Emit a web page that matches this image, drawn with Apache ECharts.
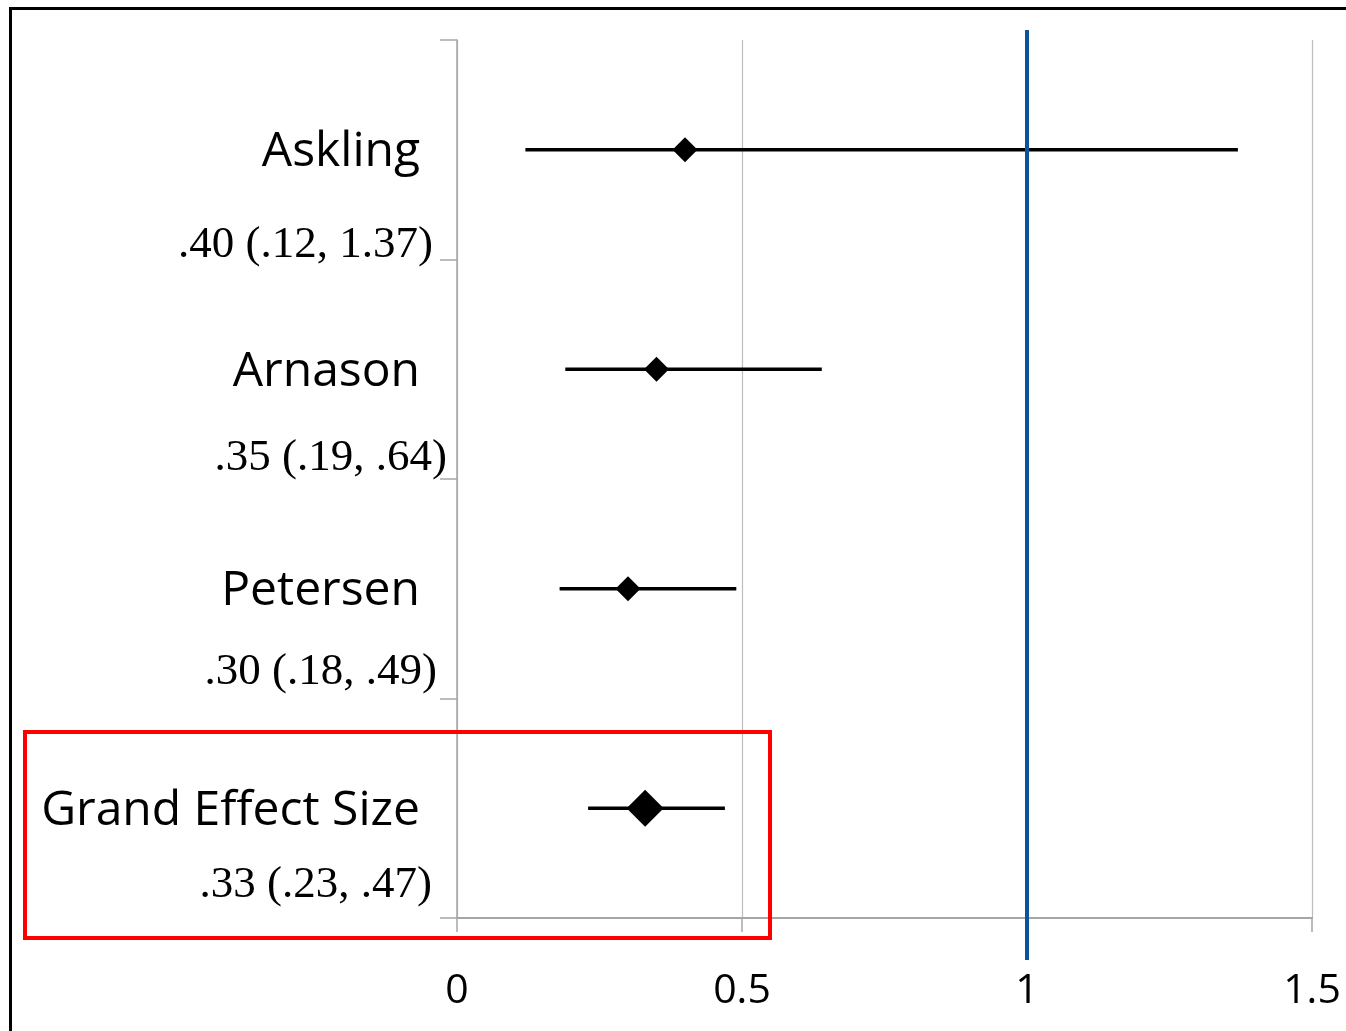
<!DOCTYPE html>
<html>
<head>
<meta charset="utf-8">
<script src="https://cdn.jsdelivr.net/npm/echarts@6/dist/echarts.min.js"></script>
<style>
html,body{margin:0;padding:0;background:#fff;}
#chart{width:1346px;height:1031px;}
</style>
</head>
<body>
<div id="chart"></div>
<script>
const studies = ['Askling', 'Arnason', 'Petersen', 'Grand Effect Size'];
const ciLabels = ['.40 (.12, 1.37)', '.35 (.19, .64)', '.30 (.18, .49)', '.33 (.23, .47)'];
const pointEst = [0.40, 0.35, 0.30, 0.33];
const lowerCI = [0.12, 0.19, 0.18, 0.23];
const upperCI = [1.37, 0.64, 0.49, 0.47];
const xTicks = [0, 0.5, 1, 1.5];
const refValue = 1;

const chart = echarts.init(document.getElementById('chart'));

const grayLine = '#a6a6a6';

// per-row label layout tweaks (style only)
const nameLineHeights = [99, 86, 75, 62];
const valuePadRight = [15, 1, 11, 16];
const rich = {};
studies.forEach((s, i) => {
  rich['n' + i] = { fontFamily: 'Open Sans', fontSize: 48, color: '#000', lineHeight: nameLineHeights[i], padding: [0, 28, 0, 0], align: 'right' };
  rich['v' + i] = { fontFamily: 'Liberation Serif', fontSize: 45, color: '#000', lineHeight: 86, padding: [0, valuePadRight[i], 0, 0], align: 'right' };
});

chart.setOption({
  animation: false,
  backgroundColor: '#fff',
  grid: { left: 457, right: 34, top: 40, bottom: 113, containLabel: false },
  xAxis: {
    type: 'value',
    min: xTicks[0],
    max: xTicks[xTicks.length - 1],
    interval: 0.5,
    axisLine: { show: true, onZero: false, lineStyle: { color: grayLine, width: 2 } },
    axisTick: { show: true, inside: false, length: 14, lineStyle: { color: grayLine, width: 1.5 } },
    splitLine: { show: true, lineStyle: { color: '#bdbdbd', width: 1.2 } },
    axisLabel: {
      margin: 53,
      fontFamily: 'Open Sans',
      fontSize: 41,
      color: '#000',
      formatter: v => String(v)
    }
  },
  yAxis: {
    type: 'category',
    data: studies,
    inverse: true,
    boundaryGap: true,
    axisLine: { show: true, lineStyle: { color: grayLine, width: 1.5 } },
    axisTick: { show: true, inside: false, length: 17, alignWithLabel: false, lineStyle: { color: grayLine, width: 1.5 } },
    splitLine: { show: false },
    axisLabel: {
      margin: 9,
      align: 'right',
      padding: [92, 0, 0, 0],
      formatter: (v, i) => '{n' + i + '|' + v + '}\n{v' + i + '|' + ciLabels[i] + '}',
      rich: rich
    }
  },
  graphic: [
    { type: 'rect', z: 100, shape: { x: 10.5, y: 8.5, width: 1400, height: 1100 }, style: { fill: 'none', stroke: '#000', lineWidth: 3 } },
    { type: 'rect', z: 100, shape: { x: 25, y: 732, width: 745, height: 206 }, style: { fill: 'none', stroke: '#ff0000', lineWidth: 4 } }
  ],
  series: [
    {
      type: 'custom',
      name: 'CI',
      z: 2,
      data: studies.map((s, i) => [lowerCI[i], upperCI[i], i]),
      encode: { x: [0, 1], y: 2 },
      renderItem: (params, api) => {
        const p1 = api.coord([api.value(0), api.value(2)]);
        const p2 = api.coord([api.value(1), api.value(2)]);
        return { type: 'line', shape: { x1: p1[0], y1: p1[1], x2: p2[0], y2: p2[1] }, style: { stroke: '#000', lineWidth: 3.5 } };
      }
    },
    {
      type: 'scatter',
      name: 'Estimate',
      z: 3,
      symbol: 'diamond',
      data: pointEst.map((v, i) => ({ value: [v, i], symbolSize: i === studies.length - 1 ? 37 : 25 })),
      itemStyle: { color: '#000', opacity: 1 }
    },
    {
      type: 'custom',
      name: 'Reference',
      z: 4,
      clip: false,
      data: [[refValue]],
      encode: { x: 0 },
      renderItem: (params, api) => {
        const x = api.coord([api.value(0), 0])[0];
        const cs = params.coordSys;
        return { type: 'line', shape: { x1: x, y1: cs.y - 10, x2: x, y2: cs.y + cs.height + 42 }, style: { stroke: '#0b539a', lineWidth: 4 } };
      }
    }
  ]
});
</script>
</body>
</html>
